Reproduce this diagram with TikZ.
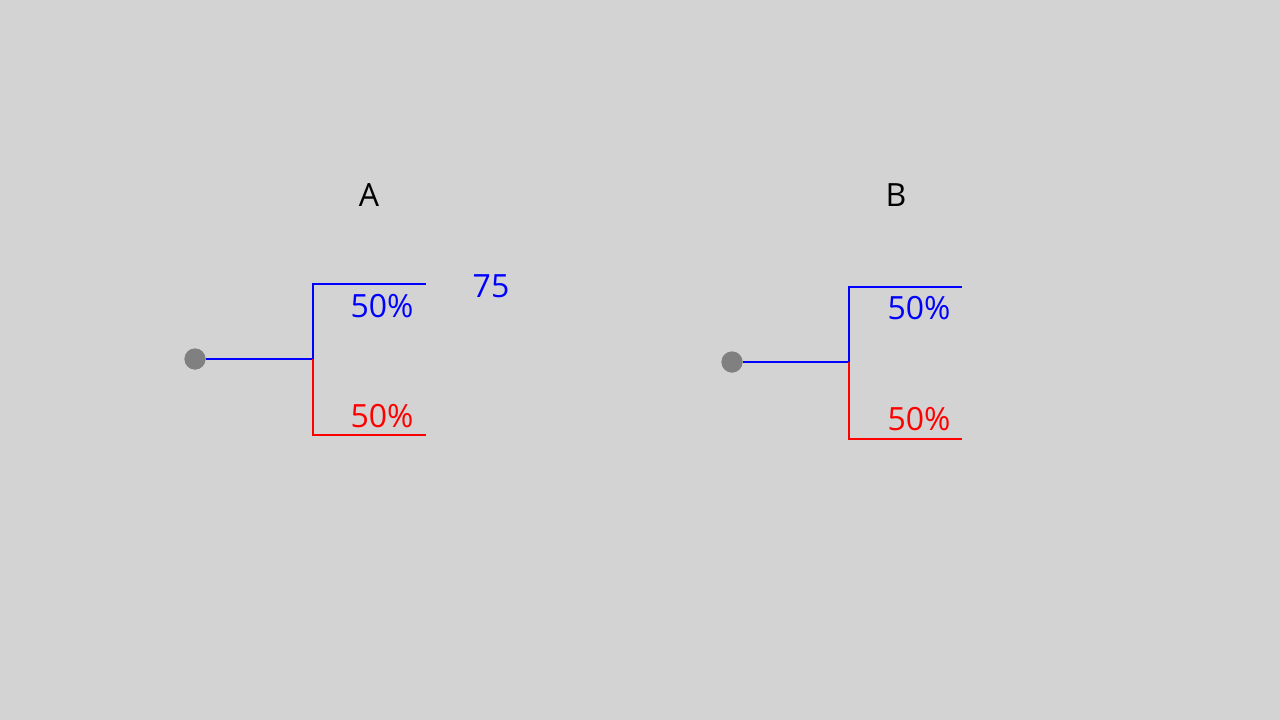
\documentclass[tikz,border=0pt]{standalone}
\usepackage{fontspec}
\setmainfont{Open Sans}
\definecolor{bggray}{RGB}{211,211,211}
\definecolor{dotgray}{RGB}{128,128,128}
\definecolor{pblue}{RGB}{0,0,255}
\definecolor{pred}{RGB}{255,0,0}
\begin{document}
\begin{tikzpicture}[x=1pt,y=-1pt,
  lbl/.style={inner sep=0pt,anchor=base,font=\fontsize{32}{38}\selectfont},
  bluelbl/.style={lbl,text=pblue},
  redlbl/.style={lbl,text=pred},
  head/.style={lbl,text=black},
  rootdot/.style={circle,fill=dotgray,draw=none,minimum size=21pt,inner sep=0pt},
  bline/.style={draw=pblue,line width=1.1pt},
  rline/.style={draw=pred,line width=1.1pt}]
\fill[bggray] (0,0) rectangle (1280,720);
\useasboundingbox (0,0) rectangle (1280,720);

% Panel A
\node[head] (hA) at (369,206) {A};
\coordinate (jA) at (313,359);
\coordinate (tA) at (313,284);
\coordinate (teA) at (426,284);
\coordinate (bA) at (313,435);
\coordinate (beA) at (426,435);
\node[rootdot] (dA) at (195,359) {};
\draw[rline] ([yshift=-0.7pt]dA.east) -- ([yshift=-0.7pt]jA);
\draw[bline] (dA.east) -- (jA);
\draw[bline] (jA) -- (tA) -- (teA);
\draw[rline] (jA) -- (bA) -- (beA);
\node[rootdot] at (dA) {};
\node[bluelbl] (pA1) at (382,317) {50\%};
\node[redlbl] (pA2) at (382,427) {50\%};
\node[bluelbl] (vA) at (491,297) {75};

% Panel B
\node[head] (hB) at (896,206) {B};
\coordinate (jB) at (849,362);
\coordinate (tB) at (849,287);
\coordinate (teB) at (962,287);
\coordinate (bB) at (849,439);
\coordinate (beB) at (962,439);
\node[rootdot] (dB) at (732,362) {};
\draw[rline] ([yshift=-0.7pt]dB.east) -- ([yshift=-0.7pt]jB);
\draw[bline] (dB.east) -- (jB);
\draw[bline] (jB) -- (tB) -- (teB);
\draw[rline] (jB) -- (bB) -- (beB);
\node[rootdot] at (dB) {};
\node[bluelbl] (pB1) at (919,319) {50\%};
\node[redlbl] (pB2) at (919,430) {50\%};
\end{tikzpicture}
\end{document}
